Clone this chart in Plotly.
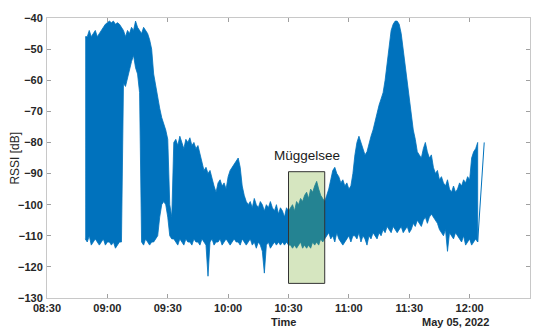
import pandas as pd
import plotly.graph_objects as go

# ---------------- data ----------------
start_minute = 19          # first sample: 08:49 (minutes after 08:30)
base_time = "2022-05-05 08:30"

# per-minute upper envelope of RSSI [dB], 08:49 .. 12:04
rssi_hi = [
    -46, -46, -44, -46, -45, -44, -46, -45, -44, -43,
    -42, -41.5, -41, -41.5, -41, -42, -41.5, -42, -43, -44,
    -46, -44, -45, -43, -44, -41, -43, -44, -45, -43,
    -44, -45, -47, -50, -58, -62, -66, -69, -72, -74,
    -76, -79, -100, -104, -80, -79, -81, -78, -80, -82,
    -79, -80, -78.5, -81, -80, -82, -81, -84, -87, -89,
    -88, -90, -89, -92, -94, -96, -93, -92, -94, -93,
    -95, -91, -89, -88, -87, -86, -85, -88, -94, -97,
    -99, -100, -99, -101, -98, -100, -101, -99, -100, -102,
    -100, -101, -99, -101, -102, -100, -103, -101, -102, -104,
    -101, -102, -101, -100, -102, -99, -100, -98, -99, -97,
    -96, -98, -95, -96, -94, -92.5, -95, -97, -98, -99,
    -97, -95, -92, -89, -88, -90, -91, -93, -92, -94,
    -93, -95, -94, -90, -84, -80, -78, -80, -82, -84,
    -83, -80, -78, -76, -73, -70, -68, -66, -64, -60,
    -54, -49, -44, -42, -41, -41, -42, -45, -50, -56,
    -61, -66, -70, -76, -79, -83, -84, -85, -82, -80,
    -83, -85, -84, -88, -90, -89, -92, -91, -93, -94,
    -92, -95, -96, -94, -96, -95, -93, -94, -92, -93,
    -91, -92, -85, -83, -82, -80,
]

# per-minute lower envelope of RSSI [dB], 08:49 .. 12:04
rssi_lo = [
    -111, -112, -110, -113, -112, -111, -112, -113, -112, -111,
    -113, -112, -112, -113, -112, -114, -113, -112, -112, -61,
    -62, -60, -57, -54, -52, -56, -58, -64, -112, -113,
    -111, -112, -113, -112, -112, -111, -110, -104, -100, -99,
    -100, -104, -110, -111, -111, -112, -113, -111, -112, -113,
    -111, -112, -112, -113, -111, -112, -112, -113, -111, -112,
    -113, -123, -112, -111, -113, -112, -112, -111, -113, -112,
    -111, -112, -113, -112, -111, -112, -112, -113, -111, -112,
    -113, -112, -111, -113, -112, -114, -112, -113, -115, -122,
    -113, -112, -114, -113, -112, -113, -112, -113, -112, -113,
    -112, -113, -113, -114, -113, -114, -113, -112, -114, -113,
    -114, -113, -114, -112, -113, -112, -113, -111, -112, -111,
    -110, -109, -111, -110, -112, -109, -111, -112, -113, -112,
    -111, -110, -112, -110, -110, -111, -109, -112, -110, -111,
    -113, -110, -111, -109, -110, -111, -109, -110, -108, -109,
    -107, -108, -109, -107, -108, -109, -108, -107, -109, -108,
    -107, -109, -108, -106, -107, -105, -106, -107, -105, -104,
    -106, -104, -103, -104, -105, -106, -108, -109, -110, -108,
    -115, -109, -110, -111, -109, -110, -111, -112, -110, -113,
    -112, -111, -113, -112, -111, -112,
]

# final isolated samples after the last block
tail_times = ["2022-05-05 12:06:55", "2022-05-05 12:07:15"]
tail_rssi = [-84, -80]

# highlighted region
region_label = "Müggelsee"
region_start = "2022-05-05 10:30"
region_end = "2022-05-05 10:48"
region_low = -125.3
region_high = -89.4
label_time = "2022-05-05 10:39"
label_rssi = -84.2

x_range = ["2022-05-05 08:30", "2022-05-05 12:30"]
y_range = [-130, -40]
x_title = "Time"
y_title = "RSSI [dB]"
date_label = "May 05, 2022"

BLUE = "#0072BD"

# ---------------- build the traces ----------------
times = list(pd.Timestamp(base_time) + pd.to_timedelta(
    [start_minute + i for i in range(len(rssi_hi))], unit="min"))

fig = go.Figure()
# envelope band of the dense RSSI samples
fig.add_trace(go.Scatter(
    x=times + times[::-1], y=rssi_hi + rssi_lo[::-1],
    mode="lines", fill="toself", fillcolor=BLUE,
    line=dict(color=BLUE, width=0.8),
    showlegend=False, hoverinfo="skip"))
# last samples: from the last low value up to the final readings
fig.add_trace(go.Scatter(
    x=[times[-1]] + list(pd.to_datetime(tail_times)),
    y=[rssi_lo[-1]] + tail_rssi,
    mode="lines", line=dict(color=BLUE, width=1),
    showlegend=False, hoverinfo="skip"))

fig.add_shape(type="rect", xref="x", yref="y",
              x0=region_start, x1=region_end, y0=region_low, y1=region_high,
              fillcolor="rgba(119,172,48,0.3)",
              line=dict(color="#333333", width=1), layer="above")

fig.add_annotation(x=label_time, y=label_rssi, xref="x", yref="y",
                   text=region_label, showarrow=False, yanchor="middle",
                   font=dict(family="Liberation Sans, Arial, sans-serif",
                             size=13.5, color="#1a1a1a"))

tick_font = dict(family="Liberation Sans, Arial, sans-serif", size=11,
                 color="#262626", weight="bold")

fig.add_annotation(x=(283 - 47) / 483, y=-0.0854, xref="paper", yref="paper",
                   text=x_title, showarrow=False, yanchor="middle",
                   font=tick_font)
fig.add_annotation(x=(491 - 47) / 483, y=-0.0854, xref="paper", yref="paper",
                   text=date_label, showarrow=False, yanchor="middle",
                   font=tick_font)
fig.add_annotation(x=(15 - 47) / 483, y=0.498, xref="paper", yref="paper",
                   text=y_title, showarrow=False, textangle=-90,
                   xanchor="center", yanchor="middle",
                   font=dict(family="Liberation Sans, Arial, sans-serif",
                             size=12, color="#262626"))

axis_common = dict(
    showgrid=False, zeroline=False, showline=True, linecolor="#c8c8c8",
    linewidth=1, mirror="ticks", ticks="inside", ticklen=4,
    tickcolor="#a0a0a0", tickwidth=1, tickfont=tick_font)

fig.update_xaxes(type="date", range=x_range, dtick=30 * 60 * 1000,
                 tick0="2022-05-05 08:30", tickformat="%H:%M",
                 **axis_common)
fig.update_yaxes(range=y_range, dtick=10, ticklabelstandoff=1, **axis_common)

fig.update_layout(
    width=544, height=332,
    margin=dict(l=47, r=14, t=13, b=34),
    paper_bgcolor="white", plot_bgcolor="white",
)

fig.write_html("out.html",
               config={"displayModeBar": False},
               post_script="document.body.style.margin='0';")
